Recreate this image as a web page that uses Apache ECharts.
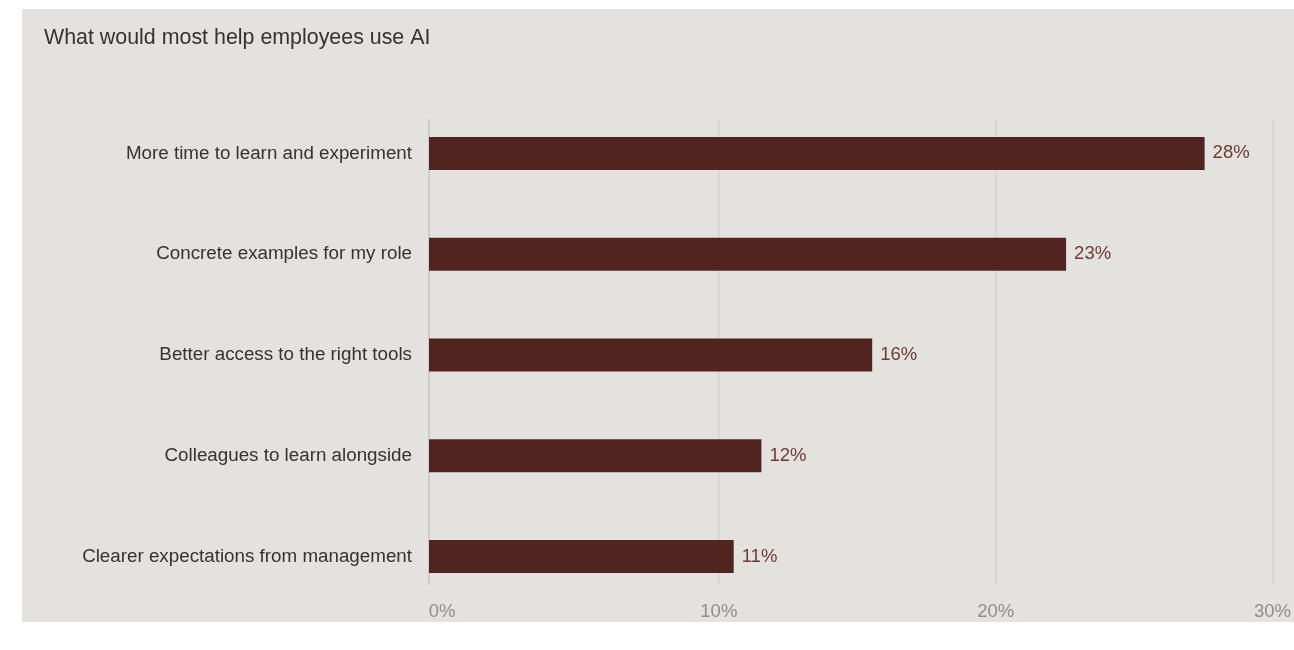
<!DOCTYPE html>
<html>
<head>
<meta charset="utf-8">
<script src="https://cdn.jsdelivr.net/npm/echarts@6/dist/echarts.min.js"></script>
<style>
  html, body { margin: 0; padding: 0; background: #ffffff; }
  #chart { width: 1294px; height: 650px; }
</style>
</head>
<body>
<div id="chart"></div>
<script>
// Survey answers, top to bottom
const categories = [
  'More time to learn and experiment',
  'Concrete examples for my role',
  'Better access to the right tools',
  'Colleagues to learn alongside',
  'Clearer expectations from management'
];
// Share of respondents (%)
const shares = [28, 23, 16, 12, 11];
// Value-axis range and step (%)
const axisMin = 0;
const axisMax = 30;
const axisStep = 10;

const FONT = '"Liberation Sans", Arial, Helvetica, sans-serif';

const chart = echarts.init(document.getElementById('chart'), null, { renderer: 'canvas' });

chart.setOption({
  backgroundColor: '#ffffff',
  animation: false,
  textStyle: { fontFamily: FONT },
  graphic: [{
    type: 'rect',
    z: -10,
    silent: true,
    shape: { x: 22, y: 9, width: 1272, height: 613 },
    style: { fill: '#e4e2de' }
  }],
  title: {
    text: 'What would most help employees use AI',
    left: 44,
    top: 28,
    padding: 0,
    textStyle: { fontFamily: FONT, fontSize: 21.4, fontWeight: 'normal', color: '#333333' }
  },
  grid: [
    // bars
    { left: 429, top: 103, width: 831, height: 504, containLabel: false },
    // gridlines and value labels
    { left: 442, top: 120, width: 831, height: 464, containLabel: false }
  ],
  xAxis: [
    {
      gridIndex: 0, type: 'value', min: axisMin, max: axisMax, interval: axisStep,
      show: false
    },
    {
      gridIndex: 1, type: 'value', min: axisMin, max: axisMax, interval: axisStep,
      axisLine: { show: false },
      axisTick: { show: false },
      splitLine: { show: true, showMinLine: false, lineStyle: { color: '#d5d3cf', width: 1.5 } },
      axisLabel: {
        margin: 18,
        color: '#8e8e8e',
        fontFamily: FONT,
        fontSize: 18.5,
        formatter: '{value}%'
      }
    }
  ],
  yAxis: [
    {
      gridIndex: 0, type: 'category', data: categories, inverse: true,
      axisLine: { show: false },
      axisTick: { show: false },
      splitLine: { show: false },
      axisLabel: { margin: 17, color: '#333333', fontFamily: FONT, fontSize: 18.8 }
    },
    {
      gridIndex: 1, type: 'value', min: 0, max: 1, offset: 13, position: 'left',
      axisLine: { show: true, onZero: false, lineStyle: { color: '#c6c4c0', width: 1.5 } },
      axisTick: { show: false },
      axisLabel: { show: false },
      splitLine: { show: false }
    }
  ],
  series: [{
    type: 'bar',
    xAxisIndex: 0,
    yAxisIndex: 0,
    data: shares,
    barWidth: 33,
    itemStyle: { color: '#52241f' },
    label: {
      show: true,
      position: 'right',
      distance: 8,
      color: '#6e3a36',
      fontFamily: FONT,
      fontSize: 18.5,
      formatter: (p) => p.value + '%'
    }
  }, {
    type: 'scatter',
    xAxisIndex: 1,
    yAxisIndex: 1,
    data: [],
    silent: true
  }]
});
</script>
</body>
</html>
